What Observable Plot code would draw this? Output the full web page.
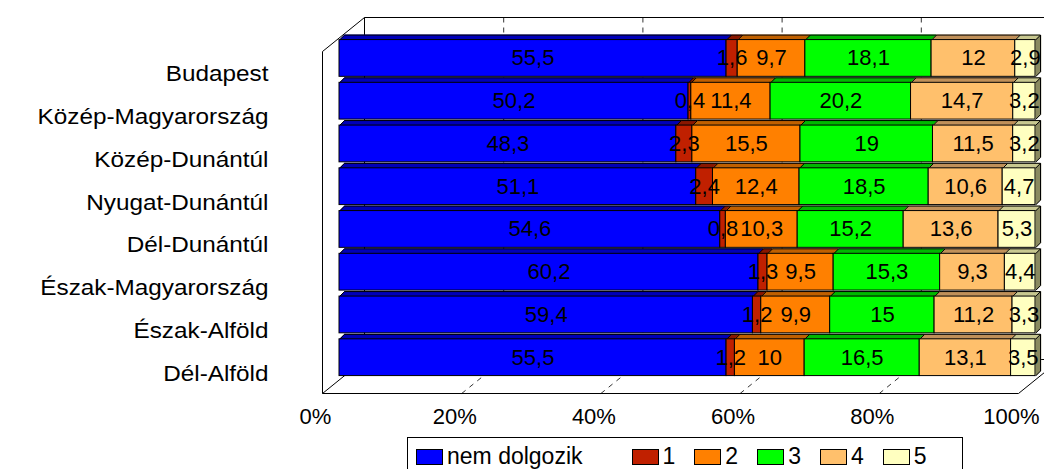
<!DOCTYPE html>
<html>
<head>
<meta charset="utf-8">
<script src="https://cdn.jsdelivr.net/npm/d3@7"></script>
<script src="https://cdn.jsdelivr.net/npm/@observablehq/plot@0.6"></script>
<style>
  body { margin: 0; background: #fff; font-family: "Liberation Sans", Arial, sans-serif; }
  #legend {
    margin-left: 407px; width: 556px; height: 40px; box-sizing: border-box;
    border: 1px solid #000; border-bottom: none;
    display: flex; padding: 7px 0 0 8px; align-items: flex-start;
    font: 23px "Liberation Sans", Arial, sans-serif; line-height: 23px; color: #000;
  }
  #legend .it { display: flex; align-items: flex-start; margin-right: 19px; }
  #legend .it:first-child { margin-right: 49px; }
  #legend .sw { width: 25px; height: 14px; border: 1px solid #000; margin: 4px 4px 0 0; }
</style>
</head>
<body>
<div id="chart"></div>
<div id="legend"></div>
<script>
// ---- data ----
const regions = ["Budapest", "Közép-Magyarország", "Közép-Dunántúl", "Nyugat-Dunántúl",
                 "Dél-Dunántúl", "Észak-Magyarország", "Észak-Alföld", "Dél-Alföld"];
const categories = ["nem dolgozik", "1", "2", "3", "4", "5"];
const nemDolgozik = [55.5, 50.2, 48.3, 51.1, 54.6, 60.2, 59.4, 55.5];
const cat1 = [1.6, 0.4, 2.3, 2.4, 0.8, 1.3, 1.2, 1.2];
const cat2 = [9.7, 11.4, 15.5, 12.4, 10.3, 9.5, 9.9, 10];
const cat3 = [18.1, 20.2, 19, 18.5, 15.2, 15.3, 15, 16.5];
const cat4 = [12, 14.7, 11.5, 10.6, 13.6, 9.3, 11.2, 13.1];
const cat5 = [2.9, 3.2, 3.2, 4.7, 5.3, 4.4, 3.3, 3.5];
const xTicks = [0, 20, 40, 60, 80, 100];

// ---- styles ----
const colors = ["#0000ff", "#c02000", "#ff8000", "#00ff00", "#ffc06c", "#ffffc0"];
const topColors = ["#0000b8", "#8a1800", "#c06000", "#00b800", "#c0905a", "#c8c890"];
const sideColor = "#8a8a60";

const series = [nemDolgozik, cat1, cat2, cat3, cat4, cat5];
const fmt = v => String(v).replace(".", ",");

// normalized (100%) stacking
const rows = [];
regions.forEach((r, i) => {
  const vals = series.map(s => s[i]);
  const tot = d3.sum(vals);
  let acc = 0;
  vals.forEach((v, k) => {
    rows.push({region: r, i, k, cat: categories[k], value: v,
               x1: acc / tot * 100, x2: (acc + v) / tot * 100});
    acc += v;
  });
});

// ---- layout / pseudo-3D geometry ----
const W = 1044, H = 437, ML = 339, MR = 9, MT = 37, MB = 58;
const NY = regions.length;
const ux = 100 / (W - ML - MR), uy = NY / (H - MT - MB);
const DEPTH = 5;
const FRONT = [-17, 14], BACK = [25, -20];
const BAR_T = 0.06, BAR_B = 0.92;
const yTop = d => d.i + BAR_T, yBot = d => d.i + BAR_B;

const P = (x, y, o) => ({x: x + o[0] * ux, y: y + o[1] * uy});
const seg = (a, b) => ({x1: a.x, y1: a.y, x2: b.x, y2: b.y});
const frameSegs = [
  seg(P(0, 0, BACK), P(100, 0, BACK)),
  seg(P(0, 0, BACK), P(0, NY, BACK)),
  seg(P(0, NY, BACK), P(100, NY, BACK)),
  seg(P(0, 0, FRONT), P(0, NY, FRONT)),
  seg(P(0, 0, FRONT), P(0, 0, BACK)),
  seg(P(0, NY, FRONT), P(0, NY, BACK)),
  seg(P(0, NY, FRONT), P(100, NY, FRONT)),
  seg(P(100, NY, FRONT), P(100, NY, BACK))
];
const gridSegs = xTicks.filter(t => t > 0).flatMap(t => [
  seg(P(t, 0, BACK), P(t, NY, BACK)),
  ...(t < 100 ? [seg(P(t, NY, FRONT), P(t, NY, BACK))] : [])
]);

const last = rows.filter(d => d.k === categories.length - 1);
const linkOpts = {x1: "x1", y1: "y1", x2: "x2", y2: "y2"};

const marks = [
  Plot.link(gridSegs, {...linkOpts, stroke: "#333", strokeWidth: 1, strokeDasharray: "5,5"}),
  Plot.link(frameSegs, {...linkOpts, stroke: "#000", strokeWidth: 1}),
  // extruded top faces
  ...d3.range(DEPTH, 0, -1).map(k => Plot.rect(rows, {
    x1: "x1", x2: "x2", y1: yTop, y2: yBot, fill: d => topColors[d.k], dx: k, dy: -k
  })),
  // right side face of the bar
  ...d3.range(1, DEPTH + 1).map(k => Plot.link(last, {
    x1: "x2", x2: "x2", y1: yTop, y2: yBot, stroke: sideColor, strokeWidth: 1.5, dx: k, dy: -k
  })),
  // 3D outlines
  Plot.link(rows, {x1: "x1", x2: "x2", y1: yTop, y2: yTop, dx: DEPTH, dy: -DEPTH, stroke: "#000", strokeWidth: 1}),
  Plot.link(rows, {x1: "x1", y1: yTop, x2: d => d.x1 + DEPTH * ux, y2: d => yTop(d) - DEPTH * uy, stroke: "#000", strokeWidth: 1}),
  Plot.link(last, {x1: "x2", y1: yTop, x2: d => d.x2 + DEPTH * ux, y2: d => yTop(d) - DEPTH * uy, stroke: "#000", strokeWidth: 1}),
  Plot.link(last, {x1: "x2", y1: yBot, x2: d => d.x2 + DEPTH * ux, y2: d => yBot(d) - DEPTH * uy, stroke: "#000", strokeWidth: 1}),
  Plot.link(last, {x1: "x2", x2: "x2", y1: yTop, y2: yBot, dx: DEPTH, dy: -DEPTH, stroke: "#000", strokeWidth: 1}),
  // front faces
  Plot.rect(rows, {x1: "x1", x2: "x2", y1: yTop, y2: yBot, fill: d => colors[d.k], stroke: "#000", strokeWidth: 1}),
  // value labels
  Plot.text(rows, {x: d => (d.x1 + d.x2) / 2, y: d => d.i + 0.49, text: d => fmt(d.value), fontSize: 22, fill: "#000"}),
  // axes
  Plot.axisX(xTicks, {anchor: "bottom", tickSize: 0, tickPadding: 29, dx: -24, fontSize: 22,
                      tickFormat: d => d + "%", label: null}),
  Plot.axisY(regions.map((_, i) => i + 0.5), {anchor: "left", tickSize: 0, tickPadding: 71, dy: 15.5,
                      fontSize: 21.5, tickFormat: d => regions[Math.floor(d)], label: null})
];

const chart = Plot.plot({
  width: W, height: H,
  marginLeft: ML, marginRight: MR, marginTop: MT, marginBottom: MB,
  style: {fontFamily: "'Liberation Sans', Arial, sans-serif", color: "#000", background: "#fff", overflow: "visible"},
  x: {domain: [0, 100]},
  y: {domain: [0, NY], range: [MT, H - MB]},
  marks
});
document.getElementById("chart").appendChild(chart);

// category labels are drawn slightly widened, as in the original
d3.select(chart).selectAll('[aria-label="y-axis tick label"] text').each(function () {
  const w = this.getComputedTextLength();
  this.setAttribute("textLength", (w * 1.13).toFixed(1));
  this.setAttribute("lengthAdjust", "spacingAndGlyphs");
});

// legend
const legend = d3.select("#legend");
categories.forEach((c, k) => {
  const it = legend.append("div").attr("class", "it");
  it.append("div").attr("class", "sw").style("background", colors[k]);
  it.append("span").text(c);
});
</script>
</body>
</html>
